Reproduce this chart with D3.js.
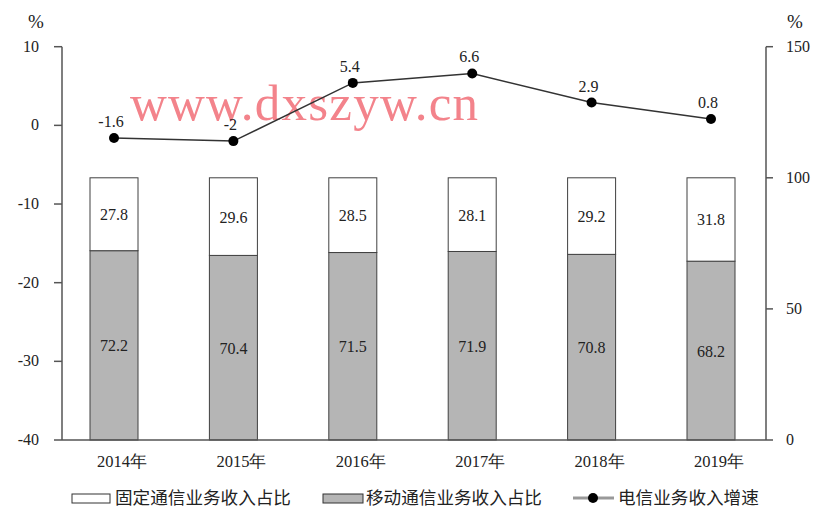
<!DOCTYPE html>
<html><head><meta charset="utf-8">
<script src="https://cdn.jsdelivr.net/npm/d3@7/dist/d3.min.js"></script>
<style>body{margin:0;background:#fff}svg{display:block}</style>
</head><body>
<svg id="c" width="824" height="514"></svg>
<script>
const years = ["2014年","2015年","2016年","2017年","2018年","2019年"];
const fixedShare = [27.8, 29.6, 28.5, 28.1, 29.2, 31.8];
const mobileShare = [72.2, 70.4, 71.5, 71.9, 70.8, 68.2];
const growth = [-1.6, -2, 5.4, 6.6, 2.9, 0.8];
const growthLabels = ["-1.6","-2","5.4","6.6","2.9","0.8"];
const leftTicks = [10, 0, -10, -20, -30, -40];
const rightTicks = [150, 100, 50, 0];
const legendLabels = ["固定通信业务收入占比","移动通信业务收入占比","电信业务收入增速"];
const watermark = "www.dxszyw.cn";

(function(){
const svg = d3.select("#c");
const serif = "'Liberation Serif','Times New Roman',serif";
const cjk = "'Noto Sans CJK SC','Noto Sans',sans-serif";
const axisL = 62, axisR = 766, plotTop = 46.7, plotBottom = 440;

const x = d3.scaleBand().domain(years).range([54.3, 770.7]).padding(0);
const barW = 48;
const yL = d3.scaleLinear().domain([-40, 10]).range([plotBottom, plotTop]);
const yR = d3.scaleLinear().domain([0, 150]).range([plotBottom, plotTop]);
const cx = d => x(d) + x.bandwidth() / 2;

// watermark
svg.append("text").attr("x", 130).attr("y", 120)
  .attr("textLength", 348).attr("lengthAdjust", "spacing")
  .style("font-family", serif).style("font-size", "51px")
  .attr("fill", "#f3838b").text(watermark);

// bars
const g = svg.append("g");
years.forEach((yr, i) => {
  const x0 = cx(yr) - barW / 2;
  g.append("rect").attr("x", x0).attr("width", barW)
    .attr("y", yR(mobileShare[i])).attr("height", yR(0) - yR(mobileShare[i]))
    .attr("fill", "#b5b5b5").attr("stroke", "#404040").attr("stroke-width", 1);
  g.append("rect").attr("x", x0).attr("width", barW)
    .attr("y", yR(mobileShare[i] + fixedShare[i])).attr("height", yR(mobileShare[i]) - yR(mobileShare[i] + fixedShare[i]))
    .attr("fill", "#fff").attr("stroke", "#404040").attr("stroke-width", 1);
  g.append("text").attr("x", cx(yr)).attr("y", (yR(mobileShare[i]) + yR(100)) / 2 + 6)
    .attr("text-anchor", "middle").style("font-family", serif).style("font-size", "16px")
    .attr("fill", "#222").text(fixedShare[i].toFixed(1));
  g.append("text").attr("x", cx(yr)).attr("y", (yR(0) + yR(mobileShare[i])) / 2 + 6)
    .attr("text-anchor", "middle").style("font-family", serif).style("font-size", "16px")
    .attr("fill", "#222").text(mobileShare[i].toFixed(1));
});

// axes
const ax = svg.append("g").attr("stroke", "#555").attr("stroke-width", 1.5).attr("fill", "none");
ax.append("line").attr("x1", axisL).attr("x2", axisL).attr("y1", plotTop).attr("y2", plotBottom);
ax.append("line").attr("x1", axisR).attr("x2", axisR).attr("y1", plotTop).attr("y2", plotBottom);
ax.append("line").attr("x1", axisL).attr("x2", axisR).attr("y1", plotBottom).attr("y2", plotBottom);
leftTicks.forEach(t => {
  ax.append("line").attr("x1", axisL - 8).attr("x2", axisL).attr("y1", yL(t)).attr("y2", yL(t));
  svg.append("text").attr("x", 39).attr("y", yL(t) + 5).attr("text-anchor", "end")
    .style("font-family", serif).style("font-size", "16px").attr("fill", "#222").text(t);
});
rightTicks.forEach(t => {
  ax.append("line").attr("x1", axisR).attr("x2", axisR + 7).attr("y1", yR(t)).attr("y2", yR(t));
  svg.append("text").attr("x", 786).attr("y", yR(t) + 5).attr("text-anchor", "start")
    .style("font-family", serif).style("font-size", "16px").attr("fill", "#222").text(t);
});
svg.append("text").attr("x", 36).attr("y", 28).attr("text-anchor", "middle")
  .style("font-family", serif).style("font-size", "19px").attr("fill", "#222").text("%");
svg.append("text").attr("x", 795).attr("y", 28).attr("text-anchor", "middle")
  .style("font-family", serif).style("font-size", "19px").attr("fill", "#222").text("%");
years.forEach(yr => {
  svg.append("text").attr("x", cx(yr) + 8).attr("y", 467).attr("text-anchor", "middle")
    .style("font-family", serif).style("font-size", "16.5px").attr("fill", "#222").text(yr);
});

// line
const line = d3.line().x((d, i) => cx(years[i])).y(d => yL(d));
svg.append("path").datum(growth).attr("d", line).attr("fill", "none")
  .attr("stroke", "#333").attr("stroke-width", 1.5);
growth.forEach((v, i) => {
  svg.append("circle").attr("cx", cx(years[i])).attr("cy", yL(v)).attr("r", 5).attr("fill", "#000");
  svg.append("text").attr("x", cx(years[i]) - 3).attr("y", yL(v) - 11).attr("text-anchor", "middle")
    .style("font-family", serif).style("font-size", "16px").attr("fill", "#222").text(growthLabels[i]);
});

// legend
const ly = 498;
svg.append("rect").attr("x", 72).attr("y", ly - 4).attr("width", 38).attr("height", 9)
  .attr("fill", "#fff").attr("stroke", "#333").attr("stroke-width", 1);
svg.append("text").attr("x", 115).attr("y", ly + 6).style("font-family", cjk).style("font-size", "17.6px")
  .attr("fill", "#222").text(legendLabels[0]);
svg.append("rect").attr("x", 323).attr("y", ly - 4).attr("width", 40).attr("height", 9)
  .attr("fill", "#b5b5b5").attr("stroke", "#333").attr("stroke-width", 1);
svg.append("text").attr("x", 366).attr("y", ly + 6).style("font-family", cjk).style("font-size", "17.6px")
  .attr("fill", "#222").text(legendLabels[1]);
svg.append("line").attr("x1", 573).attr("x2", 614).attr("y1", ly).attr("y2", ly)
  .attr("stroke", "#999").attr("stroke-width", 3);
svg.append("circle").attr("cx", 593).attr("cy", ly).attr("r", 5).attr("fill", "#000");
svg.append("text").attr("x", 618).attr("y", ly + 6).style("font-family", cjk).style("font-size", "17.6px")
  .attr("fill", "#222").text(legendLabels[2]);
})();
</script>
</body></html>
